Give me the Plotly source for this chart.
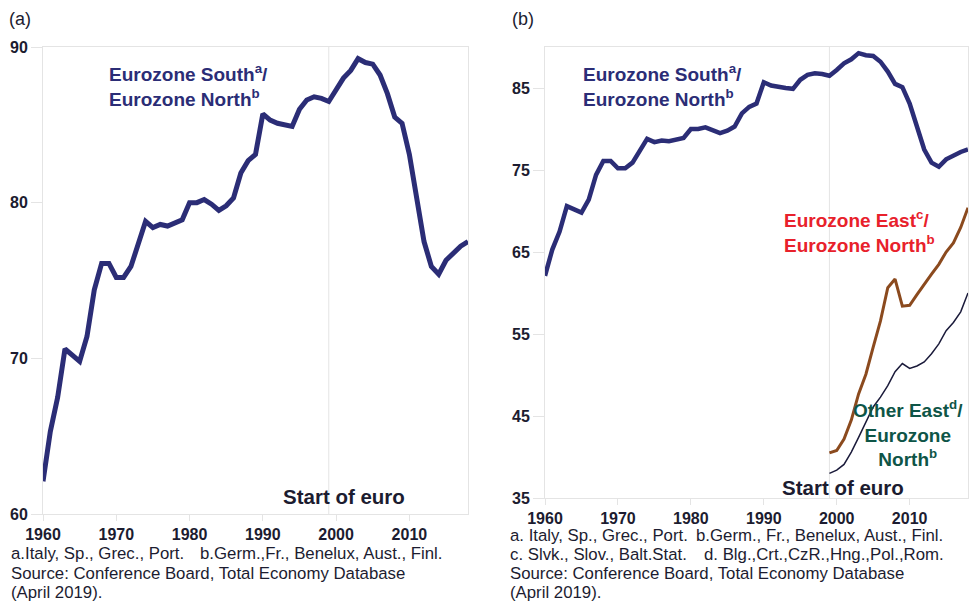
import plotly.graph_objects as go

# ---------------- data ----------------
years_all = list(range(1960, 2019))
south_north = [62.1, 65.3, 67.5, 70.6, 70.2, 69.8, 71.4, 74.4, 76.1, 76.1,
               75.2, 75.2, 75.9, 77.4, 78.8, 78.4, 78.6, 78.5, 78.7, 78.9,
               80.0, 80.0, 80.2, 79.9, 79.5, 79.8, 80.3, 81.9, 82.7, 83.1,
               85.7, 85.3, 85.1, 85.0, 84.9, 86.0, 86.6, 86.8, 86.7, 86.5,
               87.2, 88.0, 88.5, 89.25, 89.0, 88.9, 88.2, 87.0, 85.5, 85.1,
               83.1, 80.1, 77.5, 75.9, 75.4, 76.3, 76.8, 77.2, 77.5]
years_east = list(range(1999, 2019))
east_north = [40.5, 40.8, 42.2, 44.5, 47.7, 50.1, 53.4, 56.6, 60.65, 61.7,
              58.4, 58.5, 59.8, 61.1, 62.3, 63.5, 65.0, 66.1, 68.0, 70.4]
other_east_north = [38.0, 38.4, 39.1, 40.6, 42.4, 44.3, 46.1, 47.3, 48.7, 50.4,
                    51.4, 50.8, 51.1, 51.6, 52.6, 53.8, 55.4, 56.4, 57.7, 60.0]
euro_start = 1999
x_ticks = [1960, 1970, 1980, 1990, 2000, 2010]
y_ticks_a = [60, 70, 80, 90]
y_ticks_b = [35, 45, 55, 65, 75, 85]

# ---------------- styling ----------------
W, H = 971, 602
NAVY = "#2B2D76"
BROWN = "#8B4A1E"
THIN = "#1A1A3A"
RED = "#E8212B"
GREEN = "#0E5547"
TXT = "#1C1C30"
FRAME = "#E4E4E4"
FONT = "Liberation Sans, Arial, sans-serif"


def px(x):
    return x / W


def py(y):
    return 1 - y / H


fig = go.Figure()

fig.add_trace(go.Scatter(x=years_all, y=south_north, mode="lines",
                         line=dict(color=NAVY, width=5), xaxis="x", yaxis="y",
                         showlegend=False, hoverinfo="skip"))
fig.add_trace(go.Scatter(x=years_all, y=south_north, mode="lines",
                         line=dict(color=NAVY, width=4.5), xaxis="x2", yaxis="y2",
                         showlegend=False, hoverinfo="skip"))
fig.add_trace(go.Scatter(x=years_east, y=east_north, mode="lines",
                         line=dict(color=BROWN, width=3), xaxis="x2", yaxis="y2",
                         showlegend=False, hoverinfo="skip"))
fig.add_trace(go.Scatter(x=years_east, y=other_east_north, mode="lines",
                         line=dict(color=THIN, width=1.5), xaxis="x2", yaxis="y2",
                         showlegend=False, hoverinfo="skip"))

axis_common = dict(showgrid=False, zeroline=False, showline=True, mirror=True,
                   automargin=False,
                   linecolor=FRAME, linewidth=1, ticks="outside", tickcolor=FRAME,
                   tickfont=dict(family=FONT, size=16, color=TXT, weight="bold"))

fig.update_layout(
    width=W, height=H,
    margin=dict(l=0, r=0, t=0, b=0),
    paper_bgcolor="white", plot_bgcolor="white",
    xaxis=dict(domain=[px(43), px(468)], range=[1960, 2018], tickvals=x_ticks,
               ticklen=6, **axis_common),
    yaxis=dict(domain=[py(514), py(47)], range=[60, 90], tickvals=y_ticks_a,
               ticklen=11, **axis_common),
    xaxis2=dict(domain=[px(545), px(968)], range=[1960, 2018], tickvals=x_ticks,
                ticklen=6, anchor="y2", **axis_common),
    yaxis2=dict(domain=[py(498), py(47)], range=[35, 90], tickvals=y_ticks_b,
                ticklen=11, anchor="x2", **axis_common),
)

# start-of-euro vertical lines
for xr, yr in (("x", "y domain"), ("x2", "y2 domain")):
    fig.add_shape(type="line", xref=xr, yref=yr, x0=euro_start, x1=euro_start,
                  y0=0, y1=1, line=dict(color=FRAME, width=1), layer="below")


def note(x, y, text, color=TXT, size=16.8, bold=False, xanchor="left", align="left"):
    fig.add_annotation(xref="paper", yref="paper", x=px(x), y=py(y), text=text,
                       showarrow=False, xanchor=xanchor, yanchor="middle", align=align,
                       font=dict(family=FONT, size=size, color=color,
                                 weight="bold" if bold else "normal"))


# panel labels
note(7, 19, "(a)", size=18)
note(510, 19, "(b)", size=18)

# series labels
note(107, 86, "Eurozone South<sup>a</sup>/<br>Eurozone North<sup>b</sup>",
     color=NAVY, size=19, bold=True)
note(581, 86, "Eurozone South<sup>a</sup>/<br>Eurozone North<sup>b</sup>",
     color=NAVY, size=19, bold=True)
note(782, 231, "Eurozone East<sup>c</sup>/<br>Eurozone North<sup>b</sup>",
     color=RED, size=19, bold=True)
note(908, 434, "Other East<sup>d</sup>/<br>Eurozone<br>North<sup>b</sup>",
     color=GREEN, size=19, bold=True, xanchor="center", align="center")

# start of euro
note(281, 496, "Start of euro", size=20.5, bold=True)
note(780, 487, "Start of euro", size=20.5, bold=True)

# footnotes (a)
note(9, 553, "a.Italy, Sp., Grec., Port.")
note(198, 553, "b.Germ.,Fr., Benelux, Aust., Finl.")
note(9, 573, "Source: Conference Board, Total Economy Database")
note(9, 592, "(April 2019).")

# footnotes (b)
note(508, 535, "a. Italy, Sp., Grec., Port.")
note(694, 535, "b.Germ., Fr., Benelux, Aust., Finl.")
note(508, 554, "c. Slvk., Slov., Balt.Stat.")
note(702, 554, "d. Blg.,Crt.,CzR.,Hng.,Pol.,Rom.")
note(508, 573, "Source: Conference Board, Total Economy Database")
note(508, 592, "(April 2019).")

fig.write_html("out.html",
               config={"displayModeBar": False},
               post_script="document.body.style.margin='0';"
                           "document.body.style.overflow='hidden';")
